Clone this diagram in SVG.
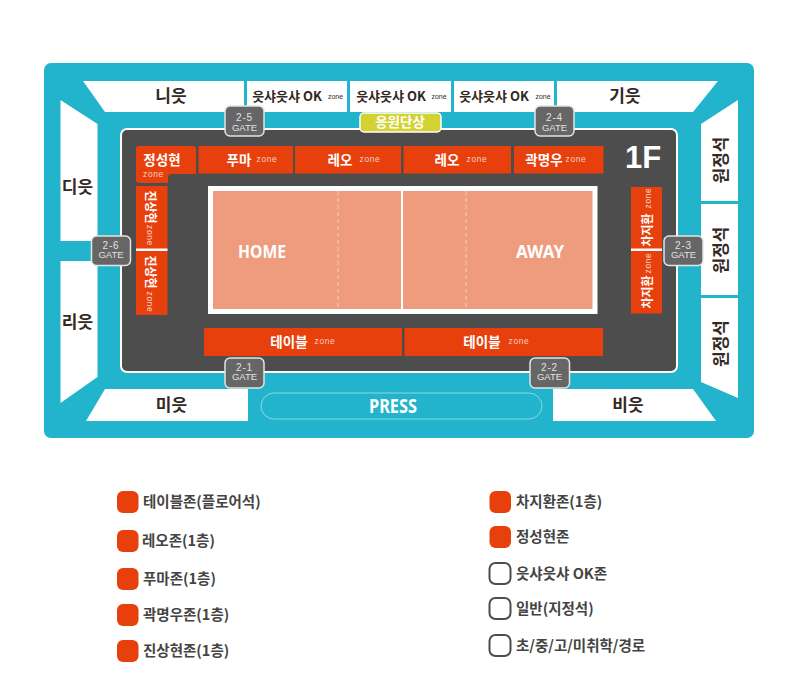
<svg xmlns="http://www.w3.org/2000/svg" width="800" height="694" viewBox="0 0 800 694">
<style>
text{font-family:"Noto Sans CJK KR","Noto Sans",sans-serif;text-anchor:middle}
.seat{fill:#fff}
.lab{font-size:17px;font-weight:700;fill:#33291f}
.ok{font-size:13px;font-weight:700;fill:#33291f}
.z{fill:#e8400c}
.zl{font-size:13.5px;font-weight:700;fill:#fff}
.zv{font-size:12px;font-weight:700;fill:#fff}
.zs{font-size:8.5px;letter-spacing:.6px;fill:#f6d0c0;font-family:"Liberation Sans",sans-serif}
.zk{font-size:7px;fill:#33291f;font-family:"Liberation Sans",sans-serif}
.g{fill:#666;stroke:#e4e4e4;stroke-width:1.5}
.gt{font-size:9.5px;fill:#e2e2e2;font-family:"Liberation Sans",sans-serif}
.gn{font-size:10px;letter-spacing:.8px;fill:#e2e2e2;font-family:"Liberation Sans",sans-serif}
.big{font-weight:700;fill:#fff;font-family:"Noto Sans",sans-serif}
.leg{font-size:14.5px;font-weight:700;fill:#444;text-anchor:start}
.sw{fill:#e8400c}
.sw0{fill:#fff;stroke:#4d4d4d;stroke-width:2}
.sep{fill:#fff}
</style>
<rect width="800" height="694" fill="#fff"/>
<g id="venue">
<rect x="44" y="63" width="710" height="375" rx="7" fill="#21b4cc"/>
</g>
<g id="seats-top">
<polygon class="seat" points="83,81 244,81 244,112 105,112"/>
<text class="lab" x="171" y="102">니읏</text>
<rect class="seat" x="247" y="81" width="100" height="31"/>
<text class="ok" x="287" y="101">읏샤읏샤 OK</text><text class="zk" x="335.500" y="99">zone</text>
<rect class="seat" x="350" y="81" width="101" height="31"/>
<text class="ok" x="391" y="101">읏샤읏샤 OK</text><text class="zk" x="439" y="99">zone</text>
<rect class="seat" x="454" y="81" width="100" height="31"/>
<text class="ok" x="494" y="101">읏샤읏샤 OK</text><text class="zk" x="543" y="99">zone</text>
<polygon class="seat" points="557,81 718,81 693,112 557,112"/>
<text class="lab" x="625" y="102">기읏</text>
</g>
<g id="seats-left">
<polygon class="seat" points="60.500,100 97.500,124 97.500,241 60.500,241"/>
<text class="lab" x="77.500" y="193">디읏</text>
<polygon class="seat" points="60.500,261 97.500,261 97.500,377 60.500,403"/>
<text class="lab" x="77.500" y="328">리읏</text>
</g>
<g id="seats-bottom">
<polygon class="seat" points="105,389 248,389 248,421 86,421"/>
<text class="lab" x="171.500" y="411">미읏</text>
<polygon class="seat" points="553,389 693,389 716,421 553,421"/>
<text class="lab" x="628" y="411">비읏</text>
</g>
<g id="seats-right">
<polygon class="seat" points="701,124 738,100 738,201 701,201"/>
<text class="lab" transform="translate(727,160) rotate(-90)">원정석</text>
<rect class="seat" x="701" y="204" width="37" height="91"/>
<text class="lab" transform="translate(727,250) rotate(-90)">원정석</text>
<polygon class="seat" points="701,298 738,298 738,398 701,382"/>
<text class="lab" transform="translate(727,343.500) rotate(-90)">원정석</text>
</g>
<g id="floor">
<rect x="121" y="129" width="556" height="243" rx="6" fill="#4d4d4d" stroke="#fff" stroke-width="2"/>
<text class="big" x="643" y="168" font-size="31" style="font-family:'Liberation Sans',sans-serif">1F</text>
</g>
<g id="zone-jeongseonghyeon">
<rect class="z" x="136" y="146" width="60" height="37" rx="3"/>
<rect x="168" y="174" width="40" height="20" rx="4" fill="#4d4d4d"/>
<text class="zl" x="162" y="165">정성현</text><text class="zs" x="153.500" y="177">zone</text>
</g>
<g id="zone-puma"><rect class="z" x="198.500" y="146" width="94.500" height="27.500"/>
<text class="zl" x="239" y="165">푸마</text><text class="zs" x="267" y="162">zone</text></g>
<g id="zone-reo-1"><rect class="z" x="295" y="146" width="106" height="27.500"/>
<text class="zl" x="340" y="165">레오</text><text class="zs" x="370" y="162">zone</text></g>
<g id="zone-reo-2"><rect class="z" x="403.500" y="146" width="107.500" height="27.500"/>
<text class="zl" x="447" y="165">레오</text><text class="zs" x="477" y="162">zone</text></g>
<g id="zone-gwak"><rect class="z" x="514" y="146" width="89.500" height="27.500"/>
<text class="zl" x="544" y="165">곽명우</text><text class="zs" x="576" y="162">zone</text></g>
<g id="zone-jinsang-1"><rect class="z" x="136" y="186" width="31.500" height="63"/>
<text class="zv" transform="translate(146,207) rotate(90)">진상현</text><text class="zs" transform="translate(147,235.500) rotate(90)">zone</text></g>
<g id="zone-jinsang-2"><rect class="z" x="136" y="250" width="31.500" height="65"/>
<text class="zv" transform="translate(146,272) rotate(90)">진상현</text><text class="zs" transform="translate(147,302) rotate(90)">zone</text></g>
<g id="zone-chaji-1"><rect class="z" x="631" y="187" width="31" height="63"/>
<text class="zv" transform="translate(652,230) rotate(-90)">차지환</text><text class="zs" transform="translate(651,198) rotate(-90)">zone</text></g>
<g id="zone-chaji-2"><rect class="z" x="631" y="250" width="31" height="63.500"/>
<text class="zv" transform="translate(652,292) rotate(-90)">차지환</text><text class="zs" transform="translate(651,263) rotate(-90)">zone</text></g>
<g id="zone-dividers">
<rect class="sep" x="136" y="248.500" width="31.500" height="2.500"/>
<rect class="sep" x="631" y="248.500" width="31" height="2.500"/>
</g>
<g id="zone-table-1"><rect class="z" x="204" y="328" width="198" height="28"/>
<text class="zl" x="289" y="347">테이블</text><text class="zs" x="325" y="344">zone</text></g>
<g id="zone-table-2"><rect class="z" x="404.500" y="328" width="198.500" height="28"/>
<text class="zl" x="482" y="347">테이블</text><text class="zs" x="519" y="344">zone</text></g>
<g id="court">
<rect x="210.500" y="188.500" width="384.500" height="123" fill="#ee9b7e" stroke="#fff" stroke-width="5"/>
<line x1="402" y1="191" x2="402" y2="309" stroke="#fff" stroke-width="2"/>
<line x1="338" y1="191" x2="338" y2="309" stroke="#f7cdbd" stroke-dasharray="4 3"/>
<line x1="466" y1="191" x2="466" y2="309" stroke="#f7cdbd" stroke-dasharray="4 3"/>
<text class="big" x="262" y="258" font-size="18" textLength="48" lengthAdjust="spacingAndGlyphs">HOME</text>
<text class="big" x="540" y="258" font-size="18" textLength="48" lengthAdjust="spacingAndGlyphs">AWAY</text>
</g>
<g id="cheer-stand">
<rect x="360" y="113" width="81" height="19" rx="4" fill="#d4d232" stroke="#fff" stroke-width="1.500"/>
<text x="400" y="127" font-size="13.500" font-weight="700" fill="#fff">응원단상</text>
</g>
<g id="press">
<rect x="261" y="393" width="281" height="26" rx="13" fill="#21b4cc" stroke="#8ad6e4" stroke-width="1"/>
<text class="big" x="393" y="413" font-size="19.500" textLength="48" lengthAdjust="spacingAndGlyphs">PRESS</text>
</g>
<g id="gate-2-5"><rect class="g" x="225" y="106" width="39" height="30" rx="5"/><text class="gn" x="244.500" y="121">2-5</text><text class="gt" x="244.500" y="131">GATE</text></g>
<g id="gate-2-4"><rect class="g" x="535" y="106" width="39" height="30" rx="5"/><text class="gn" x="554.500" y="121">2-4</text><text class="gt" x="554.500" y="131">GATE</text></g>
<g id="gate-2-6"><rect class="g" x="91.500" y="236" width="39" height="29.500" rx="5"/><text class="gn" x="111" y="248.500">2-6</text><text class="gt" x="111" y="258">GATE</text></g>
<g id="gate-2-3"><rect class="g" x="664" y="236" width="39" height="29.500" rx="5"/><text class="gn" x="683.500" y="248.500">2-3</text><text class="gt" x="683.500" y="258">GATE</text></g>
<g id="gate-2-1"><rect class="g" x="225" y="358" width="39" height="30" rx="5"/><text class="gn" x="244.500" y="370.500">2-1</text><text class="gt" x="244.500" y="380">GATE</text></g>
<g id="gate-2-2"><rect class="g" x="530" y="358" width="39.500" height="30" rx="5"/><text class="gn" x="549.500" y="370.500">2-2</text><text class="gt" x="549.500" y="380">GATE</text></g>
<g id="legend">
<rect class="sw" x="117" y="491" width="21.500" height="22" rx="6"/><text class="leg" x="143" y="507">테이블존(플로어석)</text>
<rect class="sw" x="117" y="530" width="21.500" height="22" rx="6"/><text class="leg" x="142" y="546">레오존(1층)</text>
<rect class="sw" x="117" y="568" width="21.500" height="22" rx="6"/><text class="leg" x="143" y="584">푸마존(1층)</text>
<rect class="sw" x="117" y="604" width="21.500" height="22" rx="6"/><text class="leg" x="143" y="620">곽명우존(1층)</text>
<rect class="sw" x="117" y="640" width="21.500" height="22" rx="6"/><text class="leg" x="143" y="656">진상현존(1층)</text>
<rect class="sw" x="489.500" y="491" width="21.500" height="22" rx="6"/><text class="leg" x="516" y="507">차지환존(1층)</text>
<rect class="sw" x="489.500" y="526" width="21.500" height="22" rx="6"/><text class="leg" x="516" y="542">정성현존</text>
<rect class="sw0" x="489.500" y="563" width="21" height="21" rx="6"/><text class="leg" x="516" y="579">읏샤읏샤 OK존</text>
<rect class="sw0" x="489.500" y="598" width="21" height="21" rx="6"/><text class="leg" x="516" y="614">일반(지정석)</text>
<rect class="sw0" x="489.500" y="635" width="21" height="21" rx="6"/><text class="leg" x="516" y="651">초/중/고/미취학/경로</text>
</g>
</svg>
